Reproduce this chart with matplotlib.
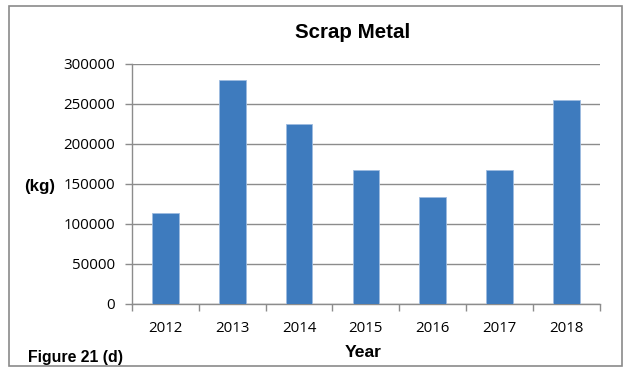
import matplotlib.pyplot as plt
from matplotlib.patches import Rectangle

YEARS = ["2012", "2013", "2014", "2015", "2016", "2017", "2018"]
SCRAP_KG = [114000, 280000, 224500, 167500, 133500, 167500, 255500]
Y_TICKS = [0, 50000, 100000, 150000, 200000, 250000, 300000]

BAR_COLOR = "#3E7BBE"
GRID_COLOR = "#8C8C8C"


def main() -> int:
    fig = plt.figure(figsize=(6.3, 3.72), dpi=100)
    ax = fig.add_axes([0.2095, 0.1828, 0.7425, 0.6452])

    x = range(len(YEARS))
    ax.bar(x, SCRAP_KG, width=0.4, color=BAR_COLOR, edgecolor="#9DBBE0",
           linewidth=0.6, zorder=3)

    ax.set_xlim(-0.5, len(YEARS) - 0.5)
    ax.set_ylim(0, 300000)
    ax.set_yticks(Y_TICKS)
    ax.set_yticklabels([str(v) for v in Y_TICKS], family="Open Sans", fontsize=10.8)
    ax.yaxis.grid(True, color=GRID_COLOR, linewidth=1.0, zorder=0)

    # year labels centred, tick marks sit between categories
    ax.set_xticks(list(x))
    ax.set_xticklabels(YEARS, family="Open Sans", fontsize=10.8)
    ax.tick_params(axis="x", length=0, pad=12)
    ax.set_xticks([i - 0.5 for i in range(len(YEARS) + 1)], minor=True)
    ax.tick_params(axis="x", which="minor", length=5, color=GRID_COLOR, width=1.0)
    ax.tick_params(axis="y", length=5, color=GRID_COLOR, width=1.0, pad=7)

    for side in ["top", "right"]:
        ax.spines[side].set_visible(False)
    for side in ["left", "bottom"]:
        ax.spines[side].set_color(GRID_COLOR)
        ax.spines[side].set_linewidth(1.0)

    fig.text(0.559, 0.913, "Scrap Metal", ha="center", va="center",
             family="Liberation Sans", fontsize=14.8, fontweight="bold")
    fig.text(0.038, 0.5, "(kg)", ha="left", va="center",
             family="Liberation Sans", fontsize=12.2, fontweight="bold")
    fig.text(0.576, 0.052, "Year", ha="center", va="center",
             family="Liberation Sans", fontsize=12.6, fontweight="bold")
    fig.text(0.044, 0.038, "Figure 21 (d)", ha="left", va="center",
             family="Liberation Sans", fontsize=11.4, fontweight="bold")

    fig.patches.append(Rectangle((0.014, 0.016), 0.973, 0.968,
                                 transform=fig.transFigure, fill=False,
                                 edgecolor="#8A8A8A", linewidth=1.2))

    fig.savefig("out.png", dpi=100)
    plt.close(fig)
    return 0


if __name__ == "__main__":
    raise SystemExit(main())
